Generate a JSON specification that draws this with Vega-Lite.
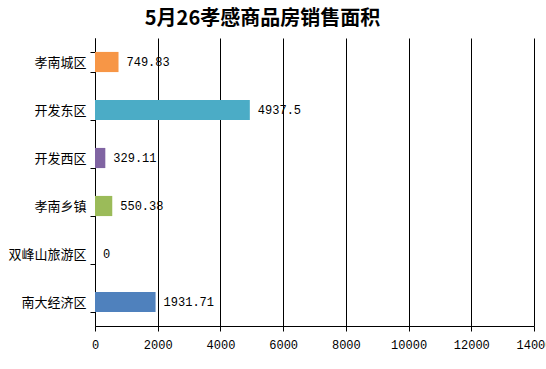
{
  "$schema": "https://vega.github.io/schema/vega-lite/v6.json",
  "autosize": "none",
  "width": 439,
  "height": 288,
  "padding": {"left": 95, "top": 38, "right": 12, "bottom": 43},
  "background": "white",
  "title": {
    "text": "5月26孝感商品房销售面积",
    "font": "Noto Sans CJK SC",
    "fontSize": 20,
    "fontWeight": "bold",
    "color": "black",
    "anchor": "middle",
    "dx": -52,
    "offset": 3
  },
  "data": {
    "values": [
      {"area": "孝南城区", "value": 749.83, "label": "749.83"},
      {"area": "开发东区", "value": 4937.5, "label": "4937.5"},
      {"area": "开发西区", "value": 329.11, "label": "329.11"},
      {"area": "孝南乡镇", "value": 550.38, "label": "550.38"},
      {"area": "双峰山旅游区", "value": 0, "label": "0"},
      {"area": "南大经济区", "value": 1931.71, "label": "1931.71"}
    ]
  },
  "encoding": {
    "y": {
      "field": "area",
      "type": "nominal",
      "sort": null,
      "scale": {"paddingInner": 0.58, "paddingOuter": 0.29},
      "axis": {
        "title": null,
        "domainColor": "black",
        "tickColor": "black",
        "tickSize": 5,
        "tickBand": "extent",
        "labelFont": "Noto Sans CJK SC",
        "labelFontSize": 13,
        "labelColor": "black",
        "labelPadding": 4,
        "grid": false
      }
    },
    "x": {
      "field": "value",
      "type": "quantitative",
      "scale": {"domain": [0, 14000], "nice": false},
      "axis": {
        "title": null,
        "values": [0, 2000, 4000, 6000, 8000, 10000, 12000, 14000],
        "format": "d",
        "domainColor": "black",
        "tickColor": "black",
        "tickSize": 5,
        "grid": true,
        "gridColor": "black",
        "gridOpacity": 1,
        "labelFont": "Liberation Mono",
        "labelFontSize": 12,
        "labelColor": "black",
        "labelPadding": 8,
        "labelFlush": false,
        "labelOverlap": false
      }
    }
  },
  "layer": [
    {
      "mark": {"type": "bar"},
      "encoding": {
        "color": {
          "field": "area",
          "type": "nominal",
          "legend": null,
          "scale": {
            "domain": ["孝南城区", "开发东区", "开发西区", "孝南乡镇", "双峰山旅游区", "南大经济区"],
            "range": ["#F79646", "#4BACC6", "#8064A2", "#9BBB59", "#C0504D", "#4F81BD"]
          }
        }
      }
    },
    {
      "mark": {"type": "text", "align": "left", "dx": 8, "font": "Liberation Mono", "fontSize": 12, "color": "black"},
      "encoding": {
        "text": {"field": "label"}
      }
    }
  ],
  "config": {
    "view": {"stroke": null}
  }
}
